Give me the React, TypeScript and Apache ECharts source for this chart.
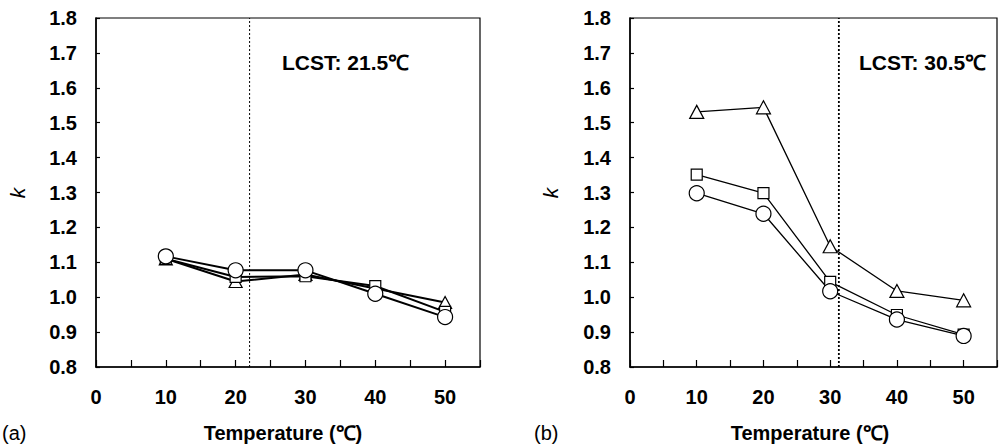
import React, { useEffect, useRef } from "react";
import * as echarts from "echarts";

const temps = [10, 20, 30, 40, 50];

// Panel (a)
const aTriangle = [1.11, 1.045, 1.065, 1.025, 0.985];
const aSquare = [1.11, 1.058, 1.06, 1.032, 0.958];
const aCircle = [1.117, 1.077, 1.077, 1.01, 0.943];
const aLcstPos = 22;

// Panel (b)
const bTriangle = [1.531, 1.544, 1.146, 1.018, 0.991];
const bSquare = [1.351, 1.298, 1.044, 0.949, 0.893];
const bCircle = [1.298, 1.239, 1.017, 0.936, 0.889];
const bLcstPos = 31.3;

const yMin = 0.8;
const yMax = 1.8;
const xMin = 0;
const xMax = 55;

const FONT = "'Liberation Sans', Arial, sans-serif";

function pairs(ys: number[]) {
  return temps.map((t, i) => [t, ys[i]]);
}

export default function App() {
  const ref = useRef<HTMLDivElement>(null);
  useEffect(() => {
    if (!ref.current) return;
    const chart = echarts.init(ref.current, undefined, { renderer: "svg" });

    const grids = [
      { left: 96, top: 18, width: 384, height: 349 },
      { left: 630, top: 18, width: 383, height: 349 },
    ].map((g) => ({
      ...g,
      show: true,
      borderColor: "#000",
      borderWidth: 1.2,
      backgroundColor: "transparent",
    }));

    const xAxes = [0, 1].map((i) => ({
      type: "value",
      gridIndex: i,
      min: xMin,
      max: xMax,
      interval: 5,
      axisLine: { show: true, lineStyle: { color: "#000", width: 1.5 } },
      axisTick: { show: true, inside: true, length: 7, lineStyle: { color: "#000", width: 1.2 } },
      splitLine: { show: false },
      axisLabel: {
        margin: 20,
        color: "#000",
        fontFamily: FONT,
        fontWeight: "bold",
        fontSize: 20,
        formatter: (v: number) => (v % 10 === 0 && v <= 50 ? String(v) : ""),
      },
    }));

    const yAxes = [0, 1].map((i) => ({
      type: "value",
      gridIndex: i,
      min: yMin,
      max: yMax,
      interval: 0.1,
      axisLine: { show: true, lineStyle: { color: "#000", width: 1.5 } },
      axisTick: { show: true, inside: true, length: 4, lineStyle: { color: "#000", width: 1.2 } },
      splitLine: { show: false },
      axisLabel: {
        margin: 19,
        color: "#000",
        fontFamily: FONT,
        fontWeight: "bold",
        fontSize: 20,
        formatter: (v: number) => v.toFixed(1),
      },
    }));

    const mk = (
      idx: number,
      data: number[],
      symbol: string,
      size: any,
      lw: number
    ) => ({
      type: "line",
      xAxisIndex: idx,
      yAxisIndex: idx,
      data: pairs(data),
      symbol,
      symbolSize: size,
      showAllSymbol: true,
      lineStyle: { color: "#000", width: lw },
      itemStyle: { color: "#fff", borderColor: "#000", borderWidth: 1.2 },
      z: 3,
    });

    const vline = (idx: number, x: number, w: number) => ({
      type: "line",
      xAxisIndex: idx,
      yAxisIndex: idx,
      data: [
        [x, yMin],
        [x, yMax],
      ],
      symbol: "none",
      lineStyle: { color: "#000", width: w, type: [2, 2] },
      z: 2,
    });

    const textStyleBold = { fontFamily: FONT, fontWeight: "bold", fontSize: 20, fill: "#000" };

    chart.setOption({
      animation: false,
      backgroundColor: "#fff",
      grid: grids,
      xAxis: xAxes,
      yAxis: yAxes,
      series: [
        vline(0, aLcstPos, 1),
        mk(0, aTriangle, "triangle", [13, 12], 2),
        mk(0, aSquare, "rect", 11, 2),
        mk(0, aCircle, "circle", 15, 2),
        vline(1, bLcstPos, 1.8),
        mk(1, bTriangle, "triangle", [14, 13], 1.3),
        mk(1, bSquare, "rect", 11, 1.3),
        mk(1, bCircle, "circle", 15, 1.3),
      ],
      graphic: [
        { type: "text", x: 282, y: 62, style: { ...textStyleBold, fontSize: 21, text: "LCST: 21.5℃", verticalAlign: "middle" } },
        { type: "text", x: 859, y: 62, style: { ...textStyleBold, fontSize: 21, text: "LCST: 30.5℃", verticalAlign: "middle" } },
        { type: "text", x: 283, y: 433, style: { ...textStyleBold, text: "Temperature (℃)", align: "center", verticalAlign: "middle" } },
        { type: "text", x: 810, y: 433, style: { ...textStyleBold, text: "Temperature (℃)", align: "center", verticalAlign: "middle" } },
        { type: "text", x: 2, y: 433, style: { fontFamily: FONT, fontSize: 20, fill: "#000", text: "(a)", verticalAlign: "middle" } },
        { type: "text", x: 534, y: 433, style: { fontFamily: FONT, fontSize: 20, fill: "#000", text: "(b)", verticalAlign: "middle" } },
        { type: "text", x: 17, y: 193, rotation: Math.PI / 2, style: { fontFamily: FONT, fontStyle: "italic", fontSize: 21, fill: "#000", text: "k", align: "center", verticalAlign: "middle" } },
        { type: "text", x: 550, y: 193, rotation: Math.PI / 2, style: { fontFamily: FONT, fontStyle: "italic", fontSize: 21, fill: "#000", text: "k", align: "center", verticalAlign: "middle" } },
      ],
    });
    return () => chart.dispose();
  }, []);
  return (
    <div
      ref={ref}
      style={{ position: "absolute", left: 0, top: 0, width: 1000, height: 444, overflow: "hidden" }}
    />
  );
}
